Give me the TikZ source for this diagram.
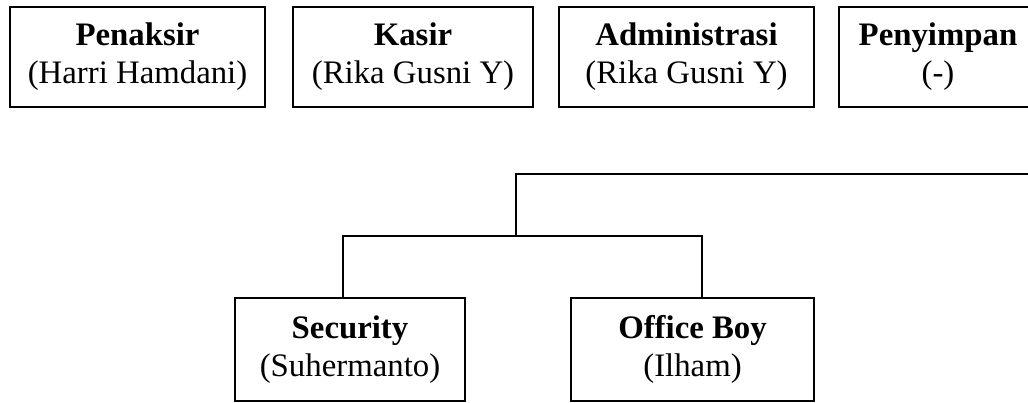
\documentclass[tikz,border=0pt]{standalone}
\usepackage{fontspec}
\setmainfont{Liberation Serif}
\usepackage{tikz}
\usetikzlibrary{calc,positioning}

\begin{document}
\begin{tikzpicture}[x=0.5pt, y=-0.5pt,
    jabatan/.style={draw, rectangle, line width=1pt, align=center, inner sep=0pt,
        minimum height=50pt, font=\fontsize{16.4}{19}\selectfont},
    garis/.style={line width=1pt}]
    \useasboundingbox (0,0) rectangle (1028,402);
    \clip (0,0) rectangle (1028,402);

    % Top row of positions
    \node[jabatan, minimum width=127.5pt] (penaksir) at (137.5,57) {\textbf{Penaksir}\\(Harri Hamdani)};
    \node[jabatan, minimum width=120pt] (kasir) at (413,57) {\textbf{Kasir}\\(Rika Gusni Y)};
    \node[jabatan, minimum width=127.5pt] (admin) at (686.5,57) {\textbf{Administrasi}\\(Rika Gusni Y)};
    \node[jabatan, minimum width=99pt] (penyimpan) at (938,57) {\textbf{Penyimpan}\\(-)};

    % Bottom row of positions
    \node[jabatan, minimum width=115pt, minimum height=51.5pt] (security) at (350,349.5) {\textbf{Security}\\(Suhermanto)};
    \node[jabatan, minimum width=121.5pt, minimum height=51.5pt] (officeboy) at (692.5,349.5) {\textbf{Office Boy}\\(Ilham)};

    % Branch lines
    \coordinate (kanan) at (1040,174);
    \coordinate (cabang) at (516,174);
    \coordinate (kiri) at (343,236);
    \coordinate (tengah) at (516,236);
    \coordinate (ujung) at (702,236);
    \draw[garis] (kanan) -- (cabang) -- (tengah);
    \draw[garis] (kiri |- security.north) -- (kiri) -- (ujung) -- (ujung |- officeboy.north);
\end{tikzpicture}
\end{document}
